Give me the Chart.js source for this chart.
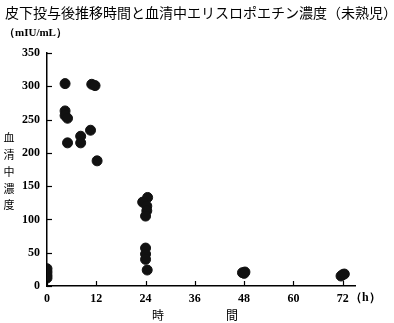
<!DOCTYPE html>
<html>
<head>
<meta charset="utf-8">
<script src="https://cdn.jsdelivr.net/npm/chart.js@4"></script>
<style>
  html, body { margin: 0; padding: 0; background: #fff; }
  #wrap { width: 394px; height: 323px; }
</style>
</head>
<body>
<div id="wrap"><canvas id="c" width="394" height="323"></canvas></div>
<script>
  // ===== data =====
  const titleText = '皮下投与後推移時間と血清中エリスロポエチン濃度（未熟児）';
  const unitText = '（mIU/mL）';
  const yLabelChars = ['血', '清', '中', '濃', '度'];
  const xLabelChars = ['時', '間'];
  const xUnit = '（h）';

  const hours = [0, 0, 0, 0,
    4.4, 4.4, 4.4, 5.0, 5.0,
    10.9, 11.7, 8.2, 8.2, 10.6, 12.2,
    24.5, 23.3, 24.3, 24.3, 24.0, 24.0, 24.0, 24.0, 24.4,
    47.6, 48.2, 48.0,
    71.6, 72.0, 72.4];
  const epo = [12, 16, 21, 26,
    304, 263, 256, 252, 215,
    303, 301, 225, 215, 234, 188,
    133, 126, 120, 113, 105, 57, 48, 40, 24,
    20, 21, 19,
    15, 17, 18];
  const xTicks = [0, 12, 24, 36, 48, 60, 72];
  const yMax = 350, yStep = 50;

  const points = hours.map((h, i) => ({ x: h, y: epo[i] }));

  const serif = '"Liberation Serif", "DejaVu Serif", serif';
  const jp = '"Noto Sans CJK JP", sans-serif';

  // inward tick marks + extra labels
  const decoPlugin = {
    id: 'deco',
    afterDraw(chart) {
      const ctx = chart.ctx;
      const xs = chart.scales.x, ys = chart.scales.y;
      const a = chart.chartArea;
      ctx.save();
      ctx.strokeStyle = '#000';
      ctx.lineWidth = 1.2;
      xTicks.forEach(t => {
        const px = Math.round(xs.getPixelForValue(t)) + 0.5;
        ctx.beginPath(); ctx.moveTo(px, a.bottom); ctx.lineTo(px, a.bottom - 5); ctx.stroke();
      });
      for (let v = 0; v <= yMax; v += yStep) {
        const py = Math.round(ys.getPixelForValue(v)) + 0.5;
        ctx.beginPath(); ctx.moveTo(a.left, py); ctx.lineTo(a.left + 5, py); ctx.stroke();
      }

      ctx.fillStyle = '#000';
      ctx.textBaseline = 'middle';
      ctx.textAlign = 'left';
      ctx.font = '14px ' + jp;
      ctx.fillText(titleText, 5, 13);

      ctx.font = 'bold 11px ' + serif;
      ctx.fillText(unitText, 4, 33);

      ctx.textAlign = 'center';
      ctx.font = '11px ' + jp;
      yLabelChars.forEach((ch, i) => ctx.fillText(ch, 9, 138 + i * 16.8));

      ctx.font = '12px ' + jp;
      ctx.fillText(xLabelChars[0], 158, 315);
      ctx.fillText(xLabelChars[1], 232, 315);

      ctx.textAlign = 'left';
      ctx.font = 'bold 12px ' + serif;
      ctx.fillText(xUnit, 350, 298);
      ctx.restore();
    }
  };

  new Chart(document.getElementById('c'), {
    type: 'scatter',
    data: {
      datasets: [{
        data: points,
        backgroundColor: '#111',
        borderColor: '#111',
        pointRadius: 5,
        pointHoverRadius: 5
      }]
    },
    options: {
      responsive: false,
      animation: false,
      events: [],
      layout: { padding: { top: 53, right: 39, left: 0, bottom: 0 } },
      plugins: { legend: { display: false }, tooltip: { enabled: false } },
      scales: {
        x: {
          type: 'linear',
          min: 0, max: 75,
          afterBuildTicks: s => { s.ticks = xTicks.map(v => ({ value: v })); },
          afterFit: s => { s.height = 37; },
          grid: { display: true, drawOnChartArea: false, drawTicks: false },
          border: { color: '#000', width: 1.5 },
          ticks: { color: '#000', padding: 6, maxRotation: 0, font: { family: serif, size: 12, weight: 'bold' } }
        },
        y: {
          min: 0, max: yMax,
          ticks: { stepSize: yStep, color: '#000', padding: 7, font: { family: serif, size: 12, weight: 'bold' } },
          afterFit: s => { s.width = 47; },
          grid: { display: true, drawOnChartArea: false, drawTicks: false },
          border: { color: '#000', width: 1.5 }
        }
      }
    },
    plugins: [decoPlugin]
  });
</script>
</body>
</html>
